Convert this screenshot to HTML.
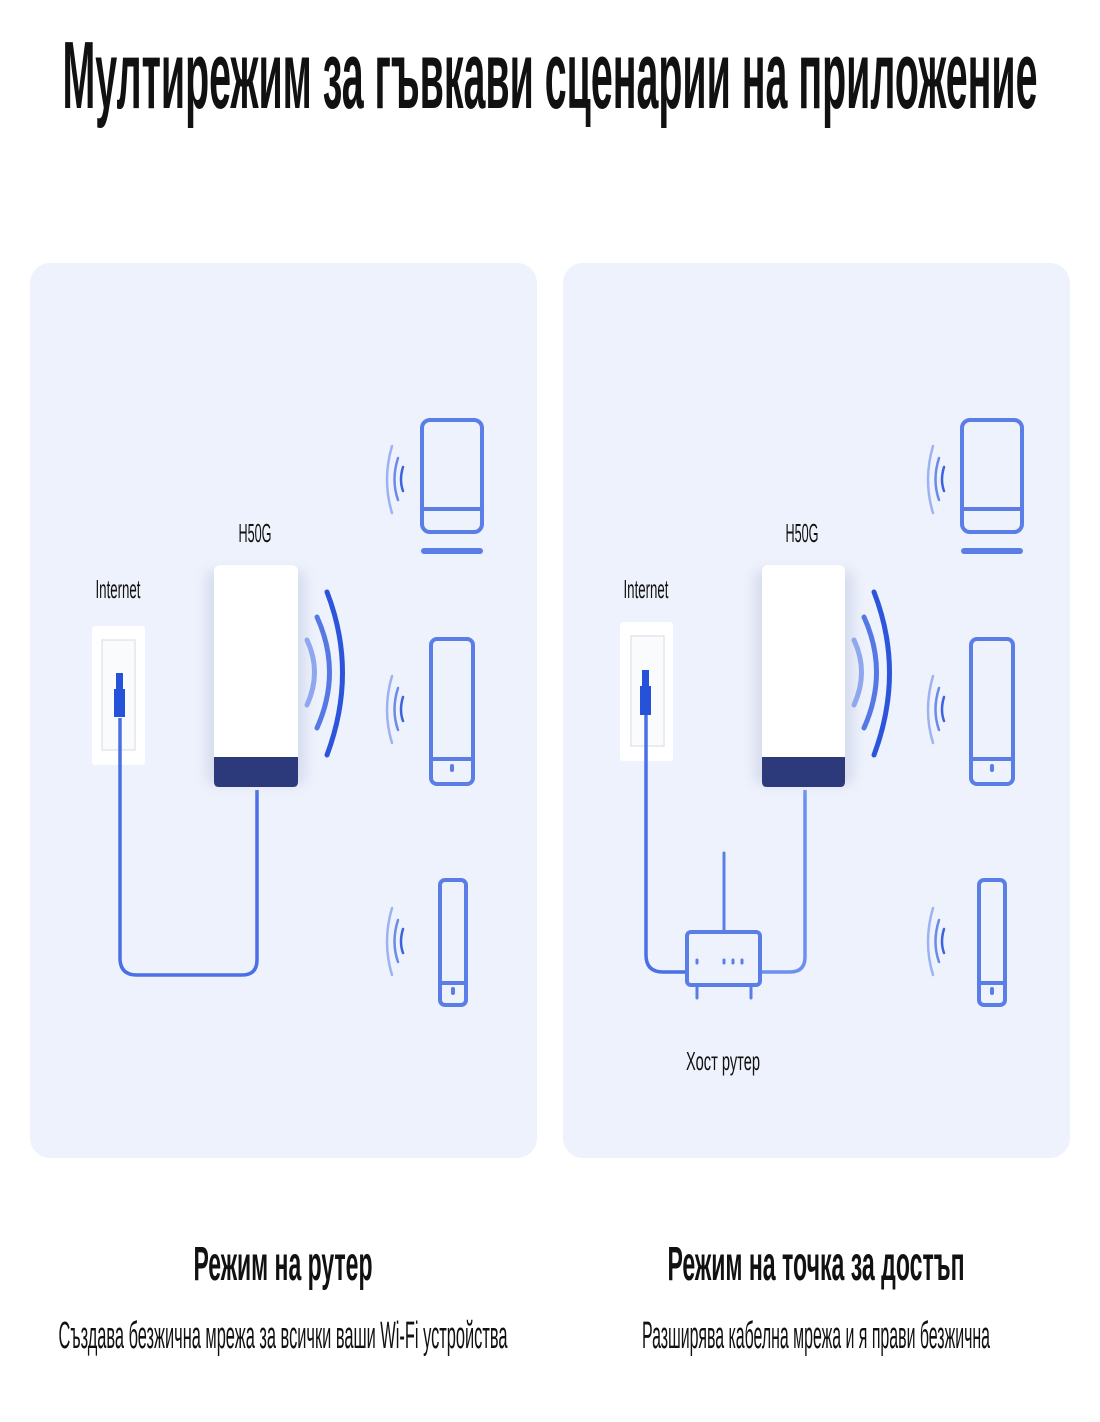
<!DOCTYPE html>
<html><head><meta charset="utf-8"><style>
html,body{margin:0;padding:0;background:#fff;width:1100px;height:1422px;overflow:hidden}
svg{display:block}
text{font-family:"Liberation Sans",sans-serif;fill:#111}
</style></head><body>
<svg width="1100" height="1422" viewBox="0 0 1100 1422" xmlns="http://www.w3.org/2000/svg">
<defs>
<filter id="sh" x="-30%" y="-20%" width="160%" height="140%"><feGaussianBlur stdDeviation="6"/></filter>
<g id="dev" fill="none" stroke="#5b7de6" stroke-width="4" stroke-linecap="round">
</g>
</defs>
<text x="550" y="108" font-size="96" font-weight="bold" text-anchor="middle" textLength="975" lengthAdjust="spacingAndGlyphs">Мултирежим за гъвкави сценарии на приложение</text>

<rect x="30" y="263" width="507" height="895" rx="20" fill="#eef2fc"/>
<rect x="563" y="263" width="507" height="895" rx="20" fill="#eef2fc"/>

<!-- LEFT -->
<g>
<text x="118" y="598" font-size="26" text-anchor="middle" textLength="45" lengthAdjust="spacingAndGlyphs">Internet</text>
<text x="255" y="542" font-size="26" text-anchor="middle" textLength="33" lengthAdjust="spacingAndGlyphs">H50G</text>
<rect x="92" y="626" width="53" height="139" rx="3" fill="#fff"/>
<rect x="102" y="640" width="33" height="110" fill="#fafbfd" stroke="#e4e6ec" stroke-width="1.5"/>
<path d="M120 718 V958 Q120 975 137 975 H242 Q257 975 257 960 V790" fill="none" stroke="#4a6fe6" stroke-width="3.5"/>
<rect x="116" y="673" width="7" height="16" fill="#2552d8"/>
<rect x="114" y="689" width="11" height="28" fill="#2552d8"/>
<rect x="206" y="570" width="100" height="215" rx="8" fill="#c8cfe6" filter="url(#sh)" opacity="0.6"/>
<rect x="214" y="565" width="84" height="200" rx="6" fill="#fff"/>
<path d="M214 757 H298 V782 Q298 787 293 787 H219 Q214 787 214 782 Z" fill="#2c3a7c"/>
<g fill="none" stroke-linecap="round">
<path d="M327 592 Q358 672 327 755" stroke="#2c55dc" stroke-width="5"/>
<path d="M317 617 Q342 672 317 728" stroke="#5578e4" stroke-width="5"/>
<path d="M307 640 Q322 672 307 705" stroke="#8fa7ef" stroke-width="5"/>
</g>
<g fill="none" stroke="#5b7de6" stroke-width="4" stroke-linecap="round">
<rect x="422" y="420" width="60" height="112" rx="8"/>
<line x1="424" y1="509" x2="480" y2="509"/>
<line x1="424" y1="551" x2="480" y2="551" stroke-width="6"/>
<rect x="431" y="639" width="42" height="145" rx="6"/>
<line x1="433" y1="759" x2="471" y2="759"/>
<line x1="452" y1="766" x2="452" y2="770"/>
<rect x="440" y="880" width="26" height="125" rx="5"/>
<line x1="442" y1="983" x2="464" y2="983"/>
<line x1="453" y1="989" x2="453" y2="993"/>
</g>
<g fill="none" stroke-linecap="round" stroke-width="2.5">
<path d="M392 446 Q382 480 392 513" stroke="#9db2f0"/><path d="M398 458 Q391 480 398 500" stroke="#6c8ae8"/><path d="M403 467 Q399 480 403 491" stroke="#3c62de"/>
<path d="M392 676 Q382 710 392 743" stroke="#9db2f0"/><path d="M398 688 Q391 710 398 730" stroke="#6c8ae8"/><path d="M403 697 Q399 710 403 721" stroke="#3c62de"/>
<path d="M392 908 Q382 942 392 975" stroke="#9db2f0"/><path d="M398 920 Q391 942 398 962" stroke="#6c8ae8"/><path d="M403 929 Q399 942 403 953" stroke="#3c62de"/>
</g>
</g>

<!-- RIGHT -->
<g>
<text x="646" y="598" font-size="26" text-anchor="middle" textLength="45" lengthAdjust="spacingAndGlyphs">Internet</text>
<text x="802" y="542" font-size="26" text-anchor="middle" textLength="33" lengthAdjust="spacingAndGlyphs">H50G</text>
<rect x="620" y="622" width="53" height="139" rx="3" fill="#fff"/>
<rect x="631" y="636" width="33" height="110" fill="#fafbfd" stroke="#e4e6ec" stroke-width="1.5"/>
<path d="M646 715 V955 Q646 972 663 972 H687" fill="none" stroke="#4a6fe6" stroke-width="3.5"/>
<path d="M760 972 H790 Q805 972 805 957 V790" fill="none" stroke="#6d8ff0" stroke-width="3.5"/>
<rect x="642" y="670" width="7" height="16" fill="#2552d8"/>
<rect x="640" y="686" width="11" height="29" fill="#2552d8"/>
<rect x="754" y="570" width="100" height="215" rx="8" fill="#c8cfe6" filter="url(#sh)" opacity="0.6"/>
<rect x="762" y="565" width="83" height="200" rx="6" fill="#fff"/>
<path d="M762 757 H845 V782 Q845 787 840 787 H767 Q762 787 762 782 Z" fill="#2c3a7c"/>
<g fill="none" stroke-linecap="round">
<path d="M874 592 Q905 672 874 755" stroke="#2c55dc" stroke-width="5"/>
<path d="M864 617 Q889 672 864 728" stroke="#5578e4" stroke-width="5"/>
<path d="M854 640 Q869 672 854 705" stroke="#8fa7ef" stroke-width="5"/>
</g>
<g fill="none" stroke="#5b7de6" stroke-width="4" stroke-linecap="round">
<line x1="724" y1="853" x2="724" y2="932" stroke-width="3"/>
<rect x="687" y="932" width="73" height="53" rx="4"/>
<line x1="697" y1="987" x2="697" y2="998" stroke-width="3"/>
<line x1="751" y1="987" x2="751" y2="998" stroke-width="3"/>
<line x1="697" y1="960" x2="697" y2="963" stroke-width="3"/>
<line x1="724" y1="960" x2="724" y2="963" stroke-width="3"/>
<line x1="733" y1="960" x2="733" y2="963" stroke-width="3"/>
<line x1="742" y1="960" x2="742" y2="963" stroke-width="3"/>
<rect x="962" y="420" width="60" height="112" rx="8"/>
<line x1="964" y1="509" x2="1020" y2="509"/>
<line x1="964" y1="551" x2="1020" y2="551" stroke-width="6"/>
<rect x="971" y="639" width="42" height="145" rx="6"/>
<line x1="973" y1="759" x2="1011" y2="759"/>
<line x1="992" y1="766" x2="992" y2="770"/>
<rect x="979" y="880" width="26" height="125" rx="5"/>
<line x1="981" y1="983" x2="1003" y2="983"/>
<line x1="992" y1="989" x2="992" y2="993"/>
</g>
<g fill="none" stroke-linecap="round" stroke-width="2.5">
<path d="M933 446 Q923 480 933 513" stroke="#9db2f0"/><path d="M939 458 Q932 480 939 500" stroke="#6c8ae8"/><path d="M944 467 Q940 480 944 491" stroke="#3c62de"/>
<path d="M933 676 Q923 710 933 743" stroke="#9db2f0"/><path d="M939 688 Q932 710 939 730" stroke="#6c8ae8"/><path d="M944 697 Q940 710 944 721" stroke="#3c62de"/>
<path d="M933 908 Q923 942 933 975" stroke="#9db2f0"/><path d="M939 920 Q932 942 939 962" stroke="#6c8ae8"/><path d="M944 929 Q940 942 944 953" stroke="#3c62de"/>
</g>
<text x="723" y="1070" font-size="26" text-anchor="middle" textLength="74" lengthAdjust="spacingAndGlyphs">Хост рутер</text>
</g>

<text x="283" y="1280" font-size="48" font-weight="bold" text-anchor="middle" textLength="179" lengthAdjust="spacingAndGlyphs">Режим на рутер</text>
<text x="283" y="1348" font-size="38" text-anchor="middle" textLength="449" lengthAdjust="spacingAndGlyphs" fill="#222">Създава безжична мрежа за всички ваши Wi-Fi устройства</text>
<text x="816" y="1280" font-size="48" font-weight="bold" text-anchor="middle" textLength="297" lengthAdjust="spacingAndGlyphs">Режим на точка за достъп</text>
<text x="816" y="1348" font-size="38" text-anchor="middle" textLength="348" lengthAdjust="spacingAndGlyphs" fill="#222">Разширява кабелна мрежа и я прави безжична</text>
</svg>
</body></html>
